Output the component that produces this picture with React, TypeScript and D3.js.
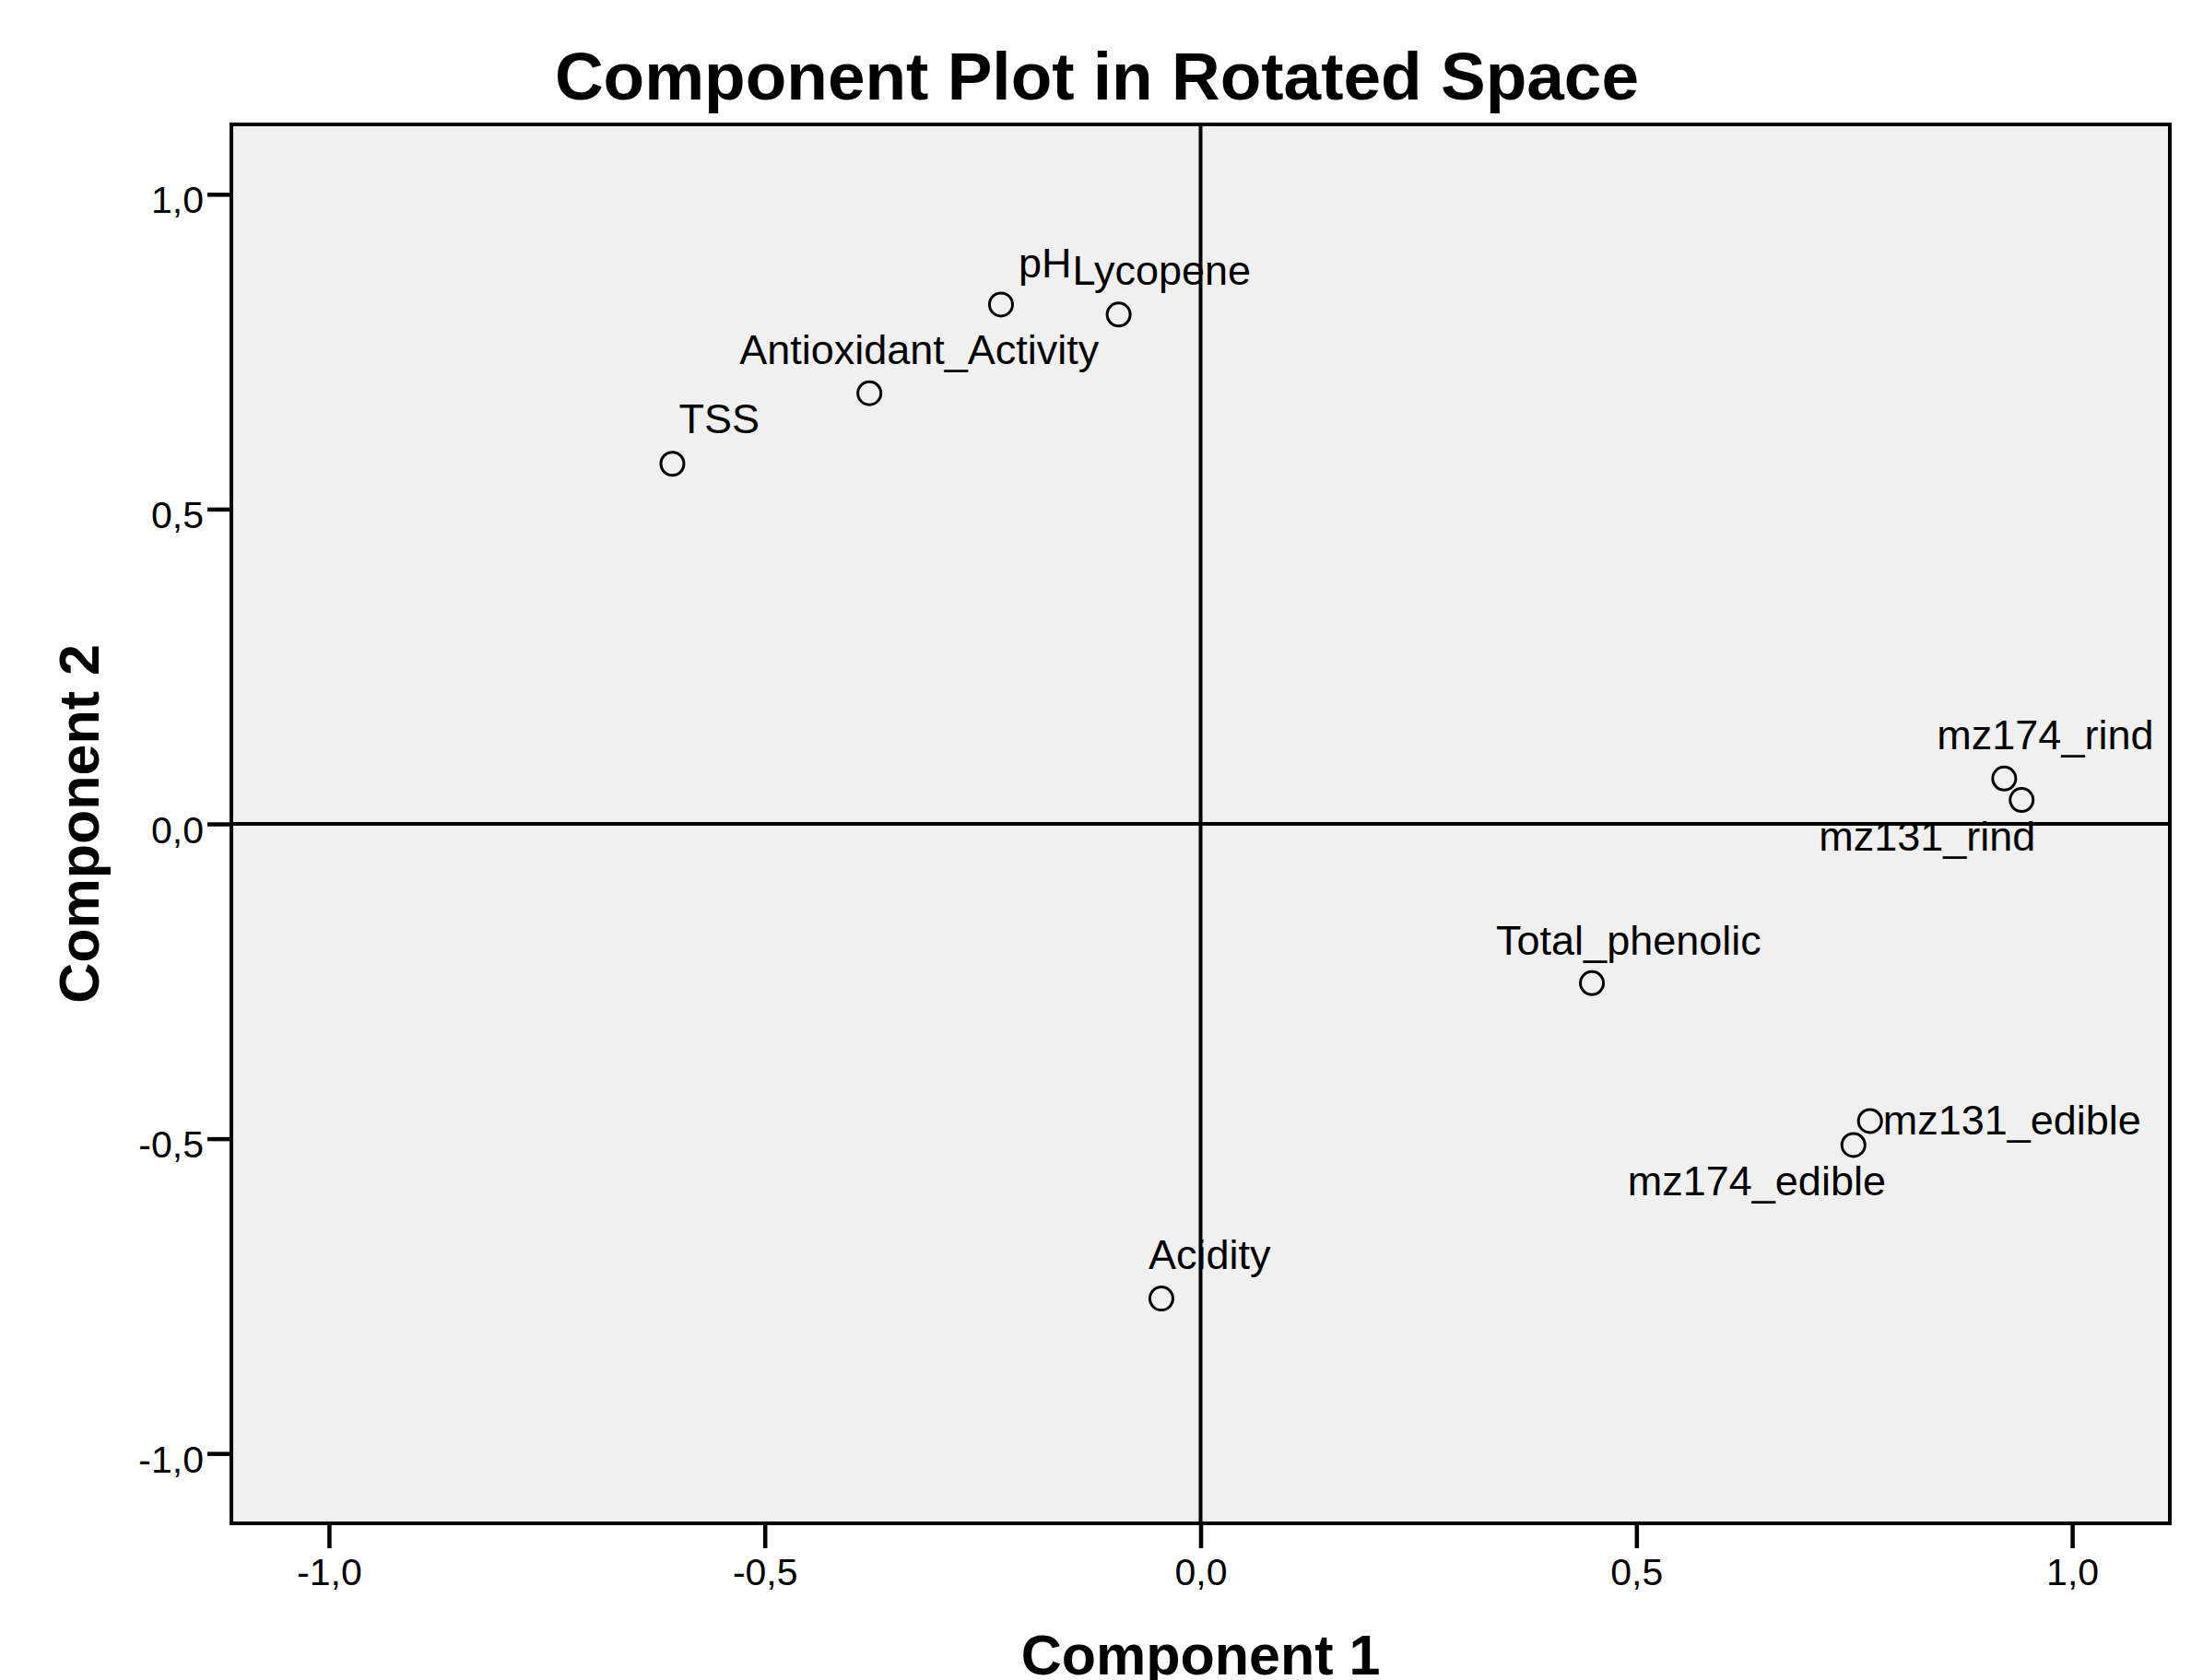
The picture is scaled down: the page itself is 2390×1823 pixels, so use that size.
import React, { useEffect, useRef } from 'react';
import * as d3 from 'd3';

// loadings
const variables = [
  'TSS',
  'Antioxidant_Activity',
  'pH',
  'Lycopene',
  'mz174_rind',
  'mz131_rind',
  'Total_phenolic',
  'mz131_edible',
  'mz174_edible',
  'Acidity',
];
const component1 = [-0.606, -0.380, -0.229, -0.094, 0.922, 0.942, 0.449, 0.768, 0.749, -0.045];
const component2 = [0.572, 0.684, 0.825, 0.809, 0.072, 0.038, -0.253, -0.472, -0.510, -0.754];

const tickValues = [-1.0, -0.5, 0.0, 0.5, 1.0];

// label placement relative to each point (pixels), like SPSS draws them
const labelOffsets: [number, number][] = [
  [7, -33],
  [-141, -32],
  [19, -29],
  [-50, -32],
  [-73, -32],
  [-220, 55],
  [-104, -31],
  [14, 15],
  [-245, 55],
  [-14, -32],
];

const W = 2390;
const H = 1823;
const FONT = '"Liberation Sans", Arial, Helvetica, sans-serif';

const fmt = (v: number) => d3.format('.1f')(v).replace('.', ',').replace('−', '-');

const App = () => {
  const svgRef = useRef<SVGSVGElement>(null);

  useEffect(() => {
    const svg = d3.select(svgRef.current);
    svg.selectAll('*').remove();

    const plot = { left: 251, top: 135, right: 2354, bottom: 1653 };

    const x = d3.scaleLinear().domain([-1.112, 1.112]).range([plot.left, plot.right]);
    const y = d3.scaleLinear().domain([-1.111, 1.111]).range([plot.bottom, plot.top]);

    // title
    svg.append('text')
      .attr('x', 1190)
      .attr('y', 108)
      .attr('text-anchor', 'middle')
      .attr('font-family', FONT)
      .attr('font-weight', 'bold')
      .attr('font-size', 73)
      .text('Component Plot in Rotated Space');

    // plot background
    svg.append('rect')
      .attr('x', plot.left)
      .attr('y', plot.top)
      .attr('width', plot.right - plot.left)
      .attr('height', plot.bottom - plot.top)
      .attr('fill', '#f0f0f0');

    // zero reference lines
    svg.append('line')
      .attr('x1', x(0)).attr('x2', x(0))
      .attr('y1', plot.top).attr('y2', plot.bottom)
      .attr('stroke', '#000').attr('stroke-width', 4);
    svg.append('line')
      .attr('x1', plot.left).attr('x2', plot.right)
      .attr('y1', y(0)).attr('y2', y(0))
      .attr('stroke', '#000').attr('stroke-width', 4);

    // frame
    svg.append('rect')
      .attr('x', plot.left)
      .attr('y', plot.top)
      .attr('width', plot.right - plot.left)
      .attr('height', plot.bottom - plot.top)
      .attr('fill', 'none')
      .attr('stroke', '#000')
      .attr('stroke-width', 4);

    // x axis
    const xAxis = svg.append('g')
      .attr('transform', `translate(0,${plot.bottom})`)
      .call(d3.axisBottom(x).tickValues(tickValues).tickSize(27).tickSizeOuter(0).tickPadding(40).tickFormat(d => fmt(+d)));
    xAxis.select('.domain').remove();
    xAxis.selectAll('line').attr('stroke', '#000').attr('stroke-width', 4.5);
    xAxis.selectAll('text')
      .attr('font-family', FONT)
      .attr('font-size', 41)
      .attr('fill', '#000')
      .attr('dy', null)
      .attr('y', 67);

    // y axis
    const yAxis = svg.append('g')
      .attr('transform', `translate(${plot.left},0)`)
      .call(d3.axisLeft(y).tickValues(tickValues).tickSize(26).tickSizeOuter(0).tickPadding(4).tickFormat(d => fmt(+d)));
    yAxis.select('.domain').remove();
    yAxis.selectAll('line').attr('stroke', '#000').attr('stroke-width', 4.5);
    yAxis.selectAll('text')
      .attr('font-family', FONT)
      .attr('font-size', 41)
      .attr('fill', '#000')
      .attr('dy', null)
      .attr('y', 20);

    // axis titles
    svg.append('text')
      .attr('x', (plot.left + plot.right) / 2)
      .attr('y', 1817)
      .attr('text-anchor', 'middle')
      .attr('font-family', FONT)
      .attr('font-weight', 'bold')
      .attr('font-size', 61)
      .text('Component 1');

    svg.append('text')
      .attr('transform', `translate(107,${(plot.top + plot.bottom) / 2}) rotate(-90)`)
      .attr('text-anchor', 'middle')
      .attr('font-family', FONT)
      .attr('font-weight', 'bold')
      .attr('font-size', 61)
      .text('Component 2');

    const points = variables.map((name, i) => ({
      name,
      c1: component1[i],
      c2: component2[i],
      off: labelOffsets[i],
    }));

    // points
    svg.append('g')
      .selectAll('circle')
      .data(points)
      .join('circle')
      .attr('cx', d => x(d.c1))
      .attr('cy', d => y(d.c2))
      .attr('r', 12.5)
      .attr('fill', 'none')
      .attr('stroke', '#000')
      .attr('stroke-width', 3);

    // labels
    svg.append('g')
      .selectAll('text')
      .data(points)
      .join('text')
      .attr('x', d => x(d.c1) + d.off[0])
      .attr('y', d => y(d.c2) + d.off[1])
      .attr('font-family', FONT)
      .attr('font-size', 45)
      .attr('fill', '#000')
      .text(d => d.name);
  }, []);

  return (
    <svg
      ref={svgRef}
      width={W}
      height={H}
      style={{ position: 'absolute', left: 0, top: 0, background: '#fff' }}
    />
  );
};

export default App;
